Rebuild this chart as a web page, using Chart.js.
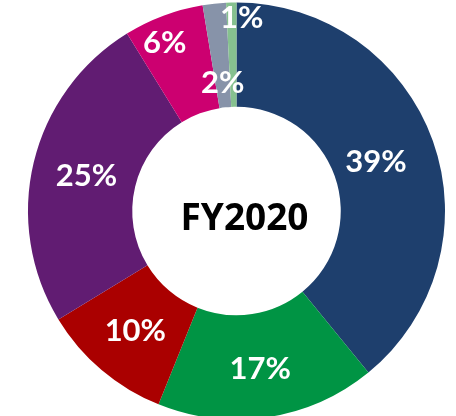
<!DOCTYPE html>
<html lang="en">
<head>
    <meta charset="UTF-8" />
    <title>FY2020</title>
    <script src="https://cdn.jsdelivr.net/npm/chart.js"></script>
    <style>
        html, body { margin: 0; padding: 0; background: #fff; overflow: hidden; }
        .wrap { position: relative; width: 456px; height: 420px; }
    </style>
</head>
<body>
    <div class="wrap">
        <canvas id="donut"></canvas>
    </div>

    <script>
        // data (clockwise from 12 o'clock)
        const shares = [39.1, 17.0, 10.2, 24.9, 6.2, 1.8, 0.8];
        const shareLabels = ["39%", "17%", "10%", "25%", "6%", "2%", "1%"];
        const sliceColors = ["#1e3f6d", "#009444", "#aa0000", "#611c72", "#cc0070", "#8793a9", "#86c18f"];
        const centerText = "FY2020";

        // label placement: radius as fraction of outer radius, plus small angle nudge (deg)
        const labelRadius = [0.71, 0.76, 0.75, 0.74, 0.88, 0.62, 0.93];
        const labelNudge = [0, 0, 0, 0, -2.5, 0, 3];

        const sliceLabels = {
            id: "sliceLabels",
            afterDatasetsDraw(chart) {
                const ctx = chart.ctx;
                const arcs = chart.getDatasetMeta(0).data;
                ctx.save();
                ctx.fillStyle = "#fff";
                ctx.font = "bold 31px Lato";
                ctx.textAlign = "center";
                ctx.textBaseline = "middle";
                arcs.forEach((arc, i) => {
                    const p = arc.getProps(["x", "y", "startAngle", "endAngle", "outerRadius"], true);
                    const mid = (p.startAngle + p.endAngle) / 2 + labelNudge[i] * Math.PI / 180;
                    const r = p.outerRadius * labelRadius[i];
                    ctx.fillText(shareLabels[i], p.x + Math.cos(mid) * r, p.y + Math.sin(mid) * r + 1);
                });
                // centre title
                const a = arcs[0];
                ctx.fillStyle = "#000";
                ctx.font = "bold 37px 'Open Sans'";
                ctx.fillText(centerText, a.x + 8, a.y + 8);
                ctx.restore();
            },
        };

        const ctxDonut = document.getElementById("donut").getContext("2d");
        const donutChart = new Chart(ctxDonut, {
            type: "doughnut",
            data: {
                labels: shareLabels,
                datasets: [
                    {
                        data: shares,
                        backgroundColor: sliceColors,
                        borderWidth: 0,
                    },
                ],
            },
            options: {
                responsive: true,
                maintainAspectRatio: false,
                animation: false,
                cutout: "50%",
                layout: {
                    padding: { left: 28, right: 11, top: 2, bottom: 0 },
                },
                plugins: {
                    legend: { display: false },
                    tooltip: { enabled: false },
                },
            },
            plugins: [sliceLabels],
        });
    </script>
</body>
</html>
